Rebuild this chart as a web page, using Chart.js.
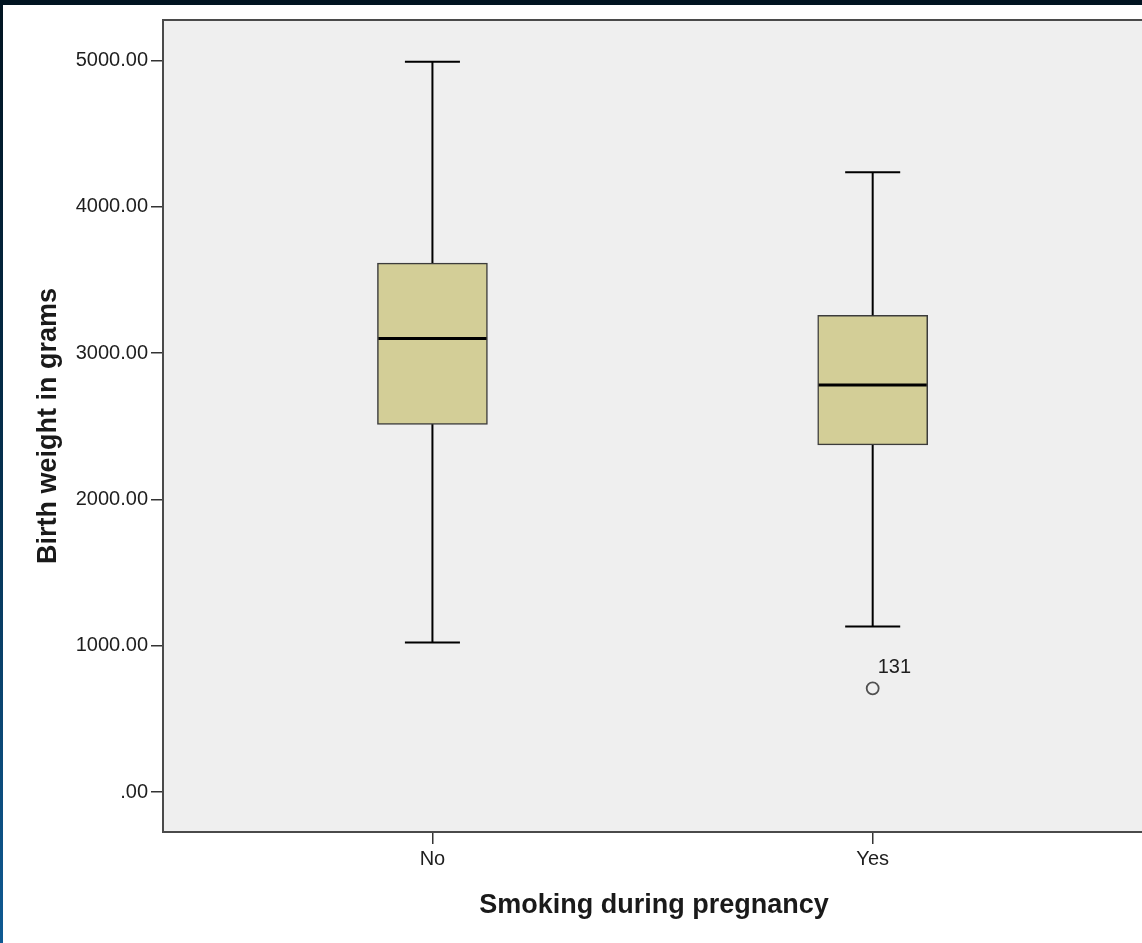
<!DOCTYPE html>
<html>
<head>
<meta charset="utf-8">
<title>Birth weight by smoking during pregnancy</title>
<script src="https://cdn.jsdelivr.net/npm/chart.js@4.4.1/dist/chart.umd.min.js"></script>
<style>
  html, body { margin: 0; padding: 0; overflow: hidden; background: #fff; }
  #frame {
    position: absolute; left: 0; top: 0; width: 1142px; height: 943px;
    background: linear-gradient(to bottom, #011421 0%, #05304f 50%, #0f5a93 100%);
  }
  #sheet {
    position: absolute; left: 3px; top: 5px; width: 1139px; height: 938px;
    background: #fff; overflow: hidden;
  }
  #boxChart { position: absolute; left: 0; top: 0; }
</style>
</head>
<body>
<div id="frame">
  <div id="sheet">
    <canvas id="boxChart" width="1150" height="938"></canvas>
  </div>
</div>
<script>
// Five-number summaries per group (grams)
const categories = ['No', 'Yes'];
const whiskerLow = [1022, 1132];
const q1 = [2513, 2372];
const median = [3099, 2781];
const q3 = [3615, 3258];
const whiskerHigh = [4990, 4236];

// Outlying cases: group index, value, case number
const outlierGroup = [1];
const outlierValue = [709];
const outlierCase = ['131'];

const yTicks = [0, 1000, 2000, 3000, 4000, 5000];

const FONT = 'Arial, "Liberation Sans", sans-serif';
const BOX_FILL = '#d3ce97';
const PLOT_BG = '#efefef';

const boxHalf = 0.125;   // half box width, x units
const capHalf = 0.0625;  // half whisker cap width

const boxPlotPlugin = {
  id: 'boxPlot',
  beforeDraw(chart) {
    const { ctx, chartArea: a } = chart;
    ctx.save();
    ctx.fillStyle = PLOT_BG;
    ctx.fillRect(a.left, a.top, a.right - a.left, a.bottom - a.top);
    ctx.restore();
  },
  afterDatasetsDraw(chart) {
    const { ctx, chartArea: a } = chart;
    const x = chart.scales.x;
    const y = chart.scales.y;
    ctx.save();
    ctx.strokeStyle = '#000';
    ctx.lineCap = 'butt';

    categories.forEach((c, i) => {
      const cx = x.getPixelForValue(i);
      // whiskers
      ctx.lineWidth = 2;
      ctx.beginPath();
      ctx.moveTo(cx, y.getPixelForValue(q3[i]));
      ctx.lineTo(cx, y.getPixelForValue(whiskerHigh[i]));
      ctx.moveTo(cx, y.getPixelForValue(q1[i]));
      ctx.lineTo(cx, y.getPixelForValue(whiskerLow[i]));
      ctx.stroke();
      // caps
      ctx.beginPath();
      [whiskerHigh[i], whiskerLow[i]].forEach(v => {
        const py = y.getPixelForValue(v);
        ctx.moveTo(x.getPixelForValue(i - capHalf), py);
        ctx.lineTo(x.getPixelForValue(i + capHalf), py);
      });
      ctx.stroke();
      // median
      ctx.lineWidth = 3;
      ctx.beginPath();
      const my = y.getPixelForValue(median[i]);
      ctx.moveTo(x.getPixelForValue(i - boxHalf) + 1, my);
      ctx.lineTo(x.getPixelForValue(i + boxHalf) - 1, my);
      ctx.stroke();
    });

    // case numbers next to outliers
    ctx.fillStyle = '#1e1e1e';
    ctx.font = '20px ' + FONT;
    ctx.textAlign = 'left';
    ctx.textBaseline = 'middle';
    outlierValue.forEach((v, k) => {
      const px = x.getPixelForValue(outlierGroup[k]);
      const py = y.getPixelForValue(v);
      ctx.fillText(outlierCase[k], px + 5, py - 21);
    });

    // plot frame
    ctx.strokeStyle = '#4a4a4a';
    ctx.lineWidth = 2;
    ctx.strokeRect(a.left, a.top, a.right - a.left, a.bottom - a.top);
    ctx.restore();
  }
};

const ctx = document.getElementById('boxChart').getContext('2d');

new Chart(ctx, {
  type: 'bar',
  data: {
    datasets: [
      {
        type: 'bar',
        data: categories.map((c, i) => ({ x: i, y: [q1[i], q3[i]] })),
        backgroundColor: BOX_FILL,
        borderColor: '#3c3c3c',
        borderWidth: 1.5,
        borderSkipped: false,
        barThickness: 110
      },
      {
        type: 'scatter',
        data: outlierValue.map((v, k) => ({ x: outlierGroup[k], y: v })),
        pointStyle: 'circle',
        pointRadius: 6,
        borderColor: '#505050',
        borderWidth: 1.8,
        backgroundColor: 'rgba(0,0,0,0)'
      }
    ]
  },
  options: {
    responsive: false,
    animation: false,
    layout: { padding: { top: 13, right: 6, left: 0, bottom: 0 } },
    plugins: {
      legend: { display: false },
      tooltip: { enabled: false }
    },
    scales: {
      x: {
        type: 'linear',
        offset: false,
        min: -0.612,
        max: 1.619,
        afterBuildTicks: scale => { scale.ticks = categories.map((c, i) => ({ value: i })); },
        afterFit: scale => { scale.height = 111; },
        ticks: {
          callback: v => categories[v],
          color: '#1e1e1e',
          font: { family: FONT, size: 20 },
          padding: 3,
          maxRotation: 0
        },
        grid: { display: true, offset: false, drawOnChartArea: false, drawTicks: true, tickLength: 12, color: '#333', lineWidth: 1.5 },
        border: { display: false },
        title: {
          display: true,
          text: 'Smoking during pregnancy',
          color: '#1a1a1a',
          font: { family: FONT, size: 27, weight: 'bold' },
          padding: { bottom: 21 }
        }
      },
      y: {
        min: -273,
        max: 5276,
        afterBuildTicks: scale => { scale.ticks = yTicks.map(v => ({ value: v })); },
        afterFit: scale => { scale.width = 160; },
        ticks: {
          callback: v => (v === 0 ? '.00' : v.toFixed(2)),
          color: '#1e1e1e',
          font: { family: FONT, size: 20 },
          padding: 3
        },
        grid: { display: true, drawOnChartArea: false, drawTicks: true, tickLength: 12, color: '#333', lineWidth: 1.5 },
        border: { display: false },
        title: {
          display: true,
          text: 'Birth weight in grams',
          color: '#1a1a1a',
          font: { family: FONT, size: 27, weight: 'bold' },
          padding: { top: 29 }
        }
      }
    }
  },
  plugins: [boxPlotPlugin]
});
</script>
</body>
</html>
